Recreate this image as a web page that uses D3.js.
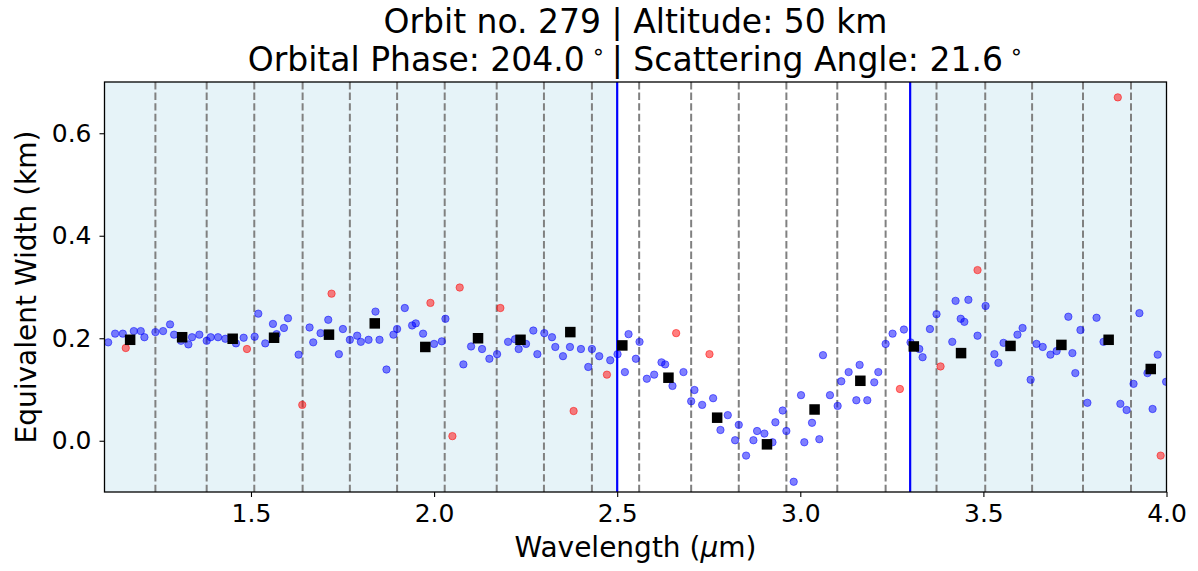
<!DOCTYPE html>
<html><head><meta charset="utf-8">
<script src="https://cdn.jsdelivr.net/npm/d3@7"></script>
<style>body{margin:0;background:#fff;} svg{display:block;font-family:"DejaVu Sans",sans-serif;}</style>
</head><body>
<svg id="c" width="1198" height="571"></svg>
<script>
const titleLine1 = "Orbit no. 279 | Altitude: 50 km";
const titlePhase = "204.0", titleAngle = "21.6";
const xTicks = [1.5, 2.0, 2.5, 3.0, 3.5, 4.0];
const yTicks = [0.0, 0.2, 0.4, 0.6];
const shadedRanges = [[1.1, 2.5], [3.3, 4.0]];
const windowEdges = [2.5, 3.3];
const binEdges = [1.239,1.379,1.509,1.641,1.770,1.899,2.029,2.171,2.300,2.431,2.560,2.702,2.832,2.962,3.101,3.233,3.372,3.505,3.633,3.772,3.903];
const blueX = [1.110,1.129,1.150,1.180,1.199,1.209,1.239,1.260,1.279,1.290,1.309,1.329,1.339,1.359,1.379,1.390,1.410,1.430,1.459,1.480,1.510,1.520,1.539,1.560,1.570,1.590,1.601,1.630,1.660,1.670,1.690,1.711,1.740,1.751,1.770,1.790,1.800,1.821,1.840,1.851,1.870,1.889,1.899,1.920,1.940,1.950,1.970,2.000,2.021,2.031,2.080,2.101,2.131,2.151,2.172,2.202,2.221,2.231,2.251,2.271,2.282,2.301,2.322,2.331,2.352,2.371,2.401,2.421,2.431,2.451,2.481,2.501,2.521,2.531,2.551,2.561,2.581,2.601,2.621,2.631,2.651,2.681,2.702,2.711,2.732,2.762,2.782,2.802,2.822,2.832,2.852,2.872,2.882,2.902,2.924,2.932,2.952,2.962,2.982,3.002,3.011,3.032,3.052,3.062,3.081,3.102,3.112,3.132,3.153,3.162,3.183,3.202,3.213,3.233,3.252,3.283,3.301,3.325,3.334,3.354,3.372,3.415,3.424,3.438,3.459,3.448,3.484,3.506,3.530,3.541,3.555,3.593,3.607,3.629,3.645,3.662,3.683,3.700,3.732,3.743,3.751,3.765,3.784,3.809,3.828,3.874,3.891,3.910,3.926,3.948,3.962,3.976,3.999];
const blueY = [0.192,0.209,0.209,0.214,0.214,0.202,0.212,0.214,0.227,0.207,0.195,0.188,0.202,0.207,0.195,0.202,0.202,0.199,0.190,0.201,0.203,0.248,0.190,0.228,0.208,0.220,0.239,0.168,0.221,0.192,0.210,0.236,0.169,0.218,0.197,0.205,0.193,0.197,0.252,0.197,0.139,0.207,0.218,0.259,0.225,0.229,0.209,0.189,0.194,0.238,0.149,0.184,0.179,0.160,0.169,0.193,0.198,0.179,0.189,0.215,0.169,0.210,0.202,0.183,0.165,0.183,0.179,0.144,0.179,0.165,0.157,0.169,0.134,0.208,0.160,0.193,0.121,0.129,0.153,0.149,0.107,0.134,0.077,0.099,0.070,0.083,0.021,0.050,0.001,0.031,-0.029,0.001,0.019,0.014,-0.003,0.036,0.059,0.019,-0.080,0.089,-0.003,0.035,0.003,0.167,0.089,0.068,0.116,0.134,0.079,0.148,0.079,0.114,0.134,0.189,0.209,0.217,0.192,0.179,0.163,0.218,0.247,0.193,0.273,0.238,0.275,0.232,0.205,0.263,0.169,0.152,0.191,0.207,0.220,0.119,0.189,0.183,0.168,0.175,0.242,0.171,0.132,0.216,0.074,0.240,0.193,0.072,0.060,0.111,0.249,0.132,0.062,0.168,0.115];
const redX = [1.158,1.489,1.640,1.720,1.990,2.050,2.070,2.181,2.381,2.472,2.661,2.752,3.272,3.383,3.484,3.842,3.867,3.984];
const redY = [0.181,0.179,0.070,0.287,0.269,0.009,0.299,0.259,0.058,0.129,0.210,0.169,0.101,0.145,0.333,0.197,0.670,-0.029];
const binX = [1.170,1.312,1.450,1.563,1.713,1.838,1.976,2.120,2.236,2.372,2.514,2.640,2.773,2.909,3.039,3.164,3.310,3.439,3.574,3.713,3.842,3.957];
const binY = [0.197,0.202,0.199,0.201,0.207,0.229,0.183,0.200,0.197,0.212,0.186,0.123,0.045,-0.007,0.061,0.117,0.184,0.171,0.185,0.187,0.197,0.140];

const svg = d3.select("#c");
const L = 104.5, R = 1166.5, T = 82, B = 492;
const x = d3.scaleLinear().domain([1.1, 4.0]).range([L, R]);
const y = d3.scaleLinear().domain([-0.1, 0.7]).range([B, T]);

const defs = svg.append("defs");
defs.append("clipPath").attr("id","clip").append("rect").attr("x",L).attr("y",T).attr("width",R-L).attr("height",B-T);
const g = svg.append("g").attr("clip-path","url(#clip)");

g.selectAll("rect.shade").data(shadedRanges).join("rect")
  .attr("x", d => x(d[0])).attr("width", d => x(d[1]) - x(d[0]))
  .attr("y", T).attr("height", B - T).attr("fill", "#e6f3f8");

g.selectAll("line.bin").data(binEdges).join("line")
  .attr("x1", d => x(d)).attr("x2", d => x(d)).attr("y1", T).attr("y2", B)
  .attr("stroke", "#808080").attr("stroke-width", 2).attr("stroke-dasharray", "7.4,3.2");

g.selectAll("line.win").data(windowEdges).join("line")
  .attr("x1", d => x(d)).attr("x2", d => x(d)).attr("y1", T).attr("y2", B)
  .attr("stroke", "#0000ff").attr("stroke-width", 2.2);

g.selectAll("circle.blue").data(blueX.map((v,i)=>[v,blueY[i]])).join("circle")
  .attr("cx", d => x(d[0])).attr("cy", d => y(d[1])).attr("r", 3.7)
  .attr("fill", "#0000ff").attr("fill-opacity", 0.5)
  .attr("stroke", "#0000ff").attr("stroke-opacity", 0.5).attr("stroke-width", 1);

g.selectAll("circle.red").data(redX.map((v,i)=>[v,redY[i]])).join("circle")
  .attr("cx", d => x(d[0])).attr("cy", d => y(d[1])).attr("r", 3.7)
  .attr("fill", "#ff0000").attr("fill-opacity", 0.5)
  .attr("stroke", "#ff0000").attr("stroke-opacity", 0.5).attr("stroke-width", 1);

const S = 10.5;
g.selectAll("rect.bin").data(binX.map((v,i)=>[v,binY[i]])).join("rect")
  .attr("x", d => x(d[0]) - S/2).attr("y", d => y(d[1]) - S/2)
  .attr("width", S).attr("height", S).attr("fill", "#000");

// axes
const xAxis = svg.append("g").attr("transform", `translate(0,${B})`)
  .call(d3.axisBottom(x).tickValues(xTicks).tickFormat(d3.format(".1f")).tickSizeOuter(0).tickSize(5).tickPadding(7));
const yAxis = svg.append("g").attr("transform", `translate(${L},0)`)
  .call(d3.axisLeft(y).tickValues(yTicks).tickFormat(d3.format(".1f")).tickSizeOuter(0).tickSize(5).tickPadding(8));
[xAxis, yAxis].forEach(a => {
  a.select(".domain").remove();
  a.selectAll("text").attr("font-family","DejaVu Sans").attr("font-size", 25).attr("fill","#000");
  a.selectAll("line").attr("stroke","#000").attr("stroke-width",1.1);
});
svg.append("rect").attr("x",L).attr("y",T).attr("width",R-L).attr("height",B-T)
  .attr("fill","none").attr("stroke","#000").attr("stroke-width",1.3);

// labels
const xl = svg.append("text").attr("x",(L+R)/2).attr("y",557).attr("text-anchor","middle")
  .attr("font-size",28).attr("fill","#000");
xl.append("tspan").text("Wavelength (");
xl.append("tspan").attr("font-style","italic").text("μ");
xl.append("tspan").text("m)");

svg.append("text").attr("transform",`translate(36,${(T+B)/2}) rotate(-90)`).attr("text-anchor","middle")
  .attr("font-size",28).attr("fill","#000").text("Equivalent Width (km)");

svg.append("text").attr("x",(L+R)/2).attr("y",33).attr("text-anchor","middle")
  .attr("font-size",33).attr("fill","#000").text(titleLine1);
const t2 = svg.append("text").attr("x",(L+R)/2).attr("y",71).attr("text-anchor","middle")
  .attr("font-size",33).attr("fill","#000");
t2.append("tspan").text("Orbital Phase: " + titlePhase + "\u2009");
t2.append("tspan").attr("dy",-12).attr("font-size",22).text("∘");
t2.append("tspan").attr("dy",12).text("\u2009| Scattering Angle: " + titleAngle + "\u2009");
t2.append("tspan").attr("dy",-12).attr("font-size",22).text("∘");
</script>
</body></html>
